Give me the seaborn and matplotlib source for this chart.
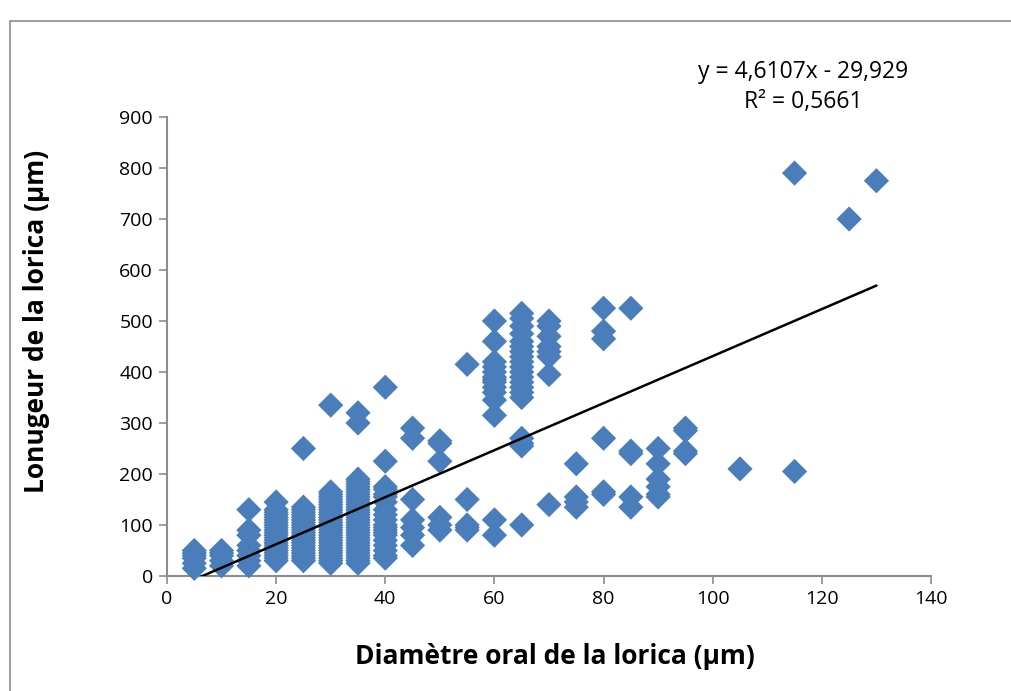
import matplotlib
matplotlib.use("Agg")
import matplotlib.pyplot as plt
import seaborn as sns
import pandas as pd
import numpy as np
from matplotlib.patches import Rectangle

# ---- data ----
x_groups = [5, 10, 15, 20, 25, 30, 35, 40, 45, 50, 55, 60, 65, 70, 75, 80, 85, 90, 95, 105, 115, 125, 130]
y_groups = [
    [15, 25, 35, 40, 45, 50],
    [20, 30, 40, 45, 50],
    [20, 30, 40, 50, 60, 80, 90, 130],
    [30, 35, 40, 45, 50, 55, 60, 65, 70, 75, 80, 85, 90, 95, 100, 105, 110, 115, 120, 125, 130, 145],
    [30, 35, 40, 45, 50, 55, 60, 65, 70, 75, 80, 85, 90, 95, 100, 105, 110, 115, 120, 125, 130, 135, 250],
    [25, 30, 35, 40, 45, 50, 55, 60, 65, 70, 75, 80, 85, 90, 95, 100, 105, 110, 115, 120, 125, 130,
     135, 140, 145, 150, 155, 160, 165, 335],
    [25, 30, 35, 40, 45, 50, 55, 60, 65, 70, 75, 80, 85, 90, 95, 100, 105, 110, 115, 120, 125, 130,
     135, 140, 145, 150, 155, 160, 165, 170, 175, 180, 185, 190, 300, 320],
    [35, 40, 50, 60, 70, 80, 85, 90, 95, 100, 110, 120, 130, 145, 155, 160, 170, 175, 225, 370],
    [60, 80, 95, 110, 150, 270, 290],
    [90, 100, 115, 225, 260, 265],
    [90, 95, 100, 150, 415],
    [80, 110, 315, 345, 360, 370, 380, 385, 390, 400, 410, 420, 460, 500],
    [100, 255, 260, 270, 350, 360, 370, 380, 390, 400, 410, 420, 430, 440, 450, 460, 475, 490, 505, 515],
    [140, 395, 430, 440, 450, 470, 490, 500],
    [135, 145, 155, 220],
    [160, 165, 270, 465, 480, 525],
    [135, 155, 240, 245, 525],
    [155, 160, 175, 190, 220, 250],
    [240, 245, 285, 290],
    [210],
    [205, 790],
    [700],
    [775],
]
slope = 4.6107
intercept = -29.929
r2 = 0.5661
x_ticks = [0, 20, 40, 60, 80, 100, 120, 140]
y_ticks = [0, 100, 200, 300, 400, 500, 600, 700, 800, 900]
x_label = "Diamètre oral de la lorica (µm)"
y_label = "Lonugeur de la lorica (µm)"

xs, ys = [], []
for xv, yl in zip(x_groups, y_groups):
    for yv in yl:
        xs.append(xv)
        ys.append(yv)
df = pd.DataFrame({"x": xs, "y": ys})

sns.set_style("white")
plt.rcParams["font.family"] = ["Open Sans", "DejaVu Sans"]

fig = plt.figure(figsize=(10.12, 6.91), dpi=100)
# outer chart border (Excel chart area)
fig.patches.append(Rectangle((10 / 1012, -0.2), 1.2, 1.2 - 21 / 691, transform=fig.transFigure,
                             fill=False, edgecolor="#8c8c8c", linewidth=1.2, zorder=0))

ax = fig.add_axes([167 / 1012, 1 - 576 / 691, (931 - 167) / 1012, (576 - 117) / 691])
sns.scatterplot(data=df, x="x", y="y", marker="D", s=165, color="#4A7EBB",
                edgecolor="none", linewidth=0, ax=ax, zorder=3, clip_on=False)

xl = np.array([min(x_groups), max(x_groups)], dtype=float)
ax.plot(xl, slope * xl + intercept, color="black", linewidth=1.8, zorder=4)

ax.set_xlim(0, 140)
ax.set_ylim(0, 900)
ax.set_xticks(x_ticks)
ax.set_yticks(y_ticks)
ax.tick_params(axis="both", labelsize=14, labelcolor="black", length=6, width=1.2, color="#8c8c8c",
               direction="out", bottom=True, left=True, pad=4)
for side in ["top", "right"]:
    ax.spines[side].set_visible(False)
for side in ["left", "bottom"]:
    ax.spines[side].set_color("#8c8c8c")
    ax.spines[side].set_linewidth(1.5)

ax.set_xlabel(x_label, fontsize=19, fontweight="bold", color="black", va="center")
ax.set_ylabel(y_label, fontsize=19, fontweight="bold", color="black", va="center")
ax.xaxis.set_label_coords((555 - 167) / 764, -(657 - 576) / 459)
ax.yaxis.set_label_coords(-(167 - 37) / 764, (576 - 321) / 459)

fig.text(803 / 1012, 1 - 72 / 691, f"y = {slope:.4f}x - {abs(intercept):.3f}".replace(".", ","),
         ha="center", va="center", fontsize=16.5, color="black")
fig.text(803 / 1012, 1 - 102 / 691, f"R² = {r2:.4f}".replace(".", ","),
         ha="center", va="center", fontsize=16.5, color="black")

fig.savefig("out.png", dpi=100)
